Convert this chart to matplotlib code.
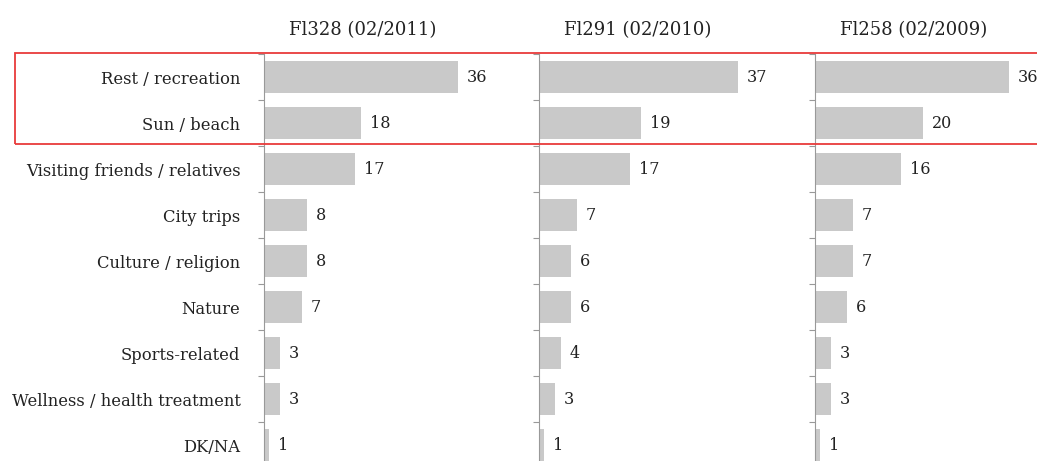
import numpy as np
import matplotlib.pyplot as plt
from matplotlib.patches import Rectangle

# data
categories = ["Rest / recreation", "Sun / beach", "Visiting friends / relatives",
              "City trips", "Culture / religion", "Nature", "Sports-related",
              "Wellness / health treatment", "DK/NA"]
titles = ["Fl328 (02/2011)", "Fl291 (02/2010)", "Fl258 (02/2009)"]
fl328 = [36, 18, 17, 8, 8, 7, 3, 3, 1]
fl291 = [37, 19, 17, 7, 6, 6, 4, 3, 1]
fl258 = [36, 20, 16, 7, 7, 6, 3, 3, 1]
series = [fl328, fl291, fl258]

W, H = 1037, 461
plt.rcParams['font.family'] = ['DejaVu Serif']
fig = plt.figure(figsize=(W / 100, H / 100), dpi=100)

axis_x = [264, 539, 815]
px_per_unit = 5.38
ax_w = 270
top_px = 54
y = np.arange(len(categories))

for i, (vals, title) in enumerate(zip(series, titles)):
    ax = fig.add_axes([axis_x[i] / W, 0, ax_w / W, (H - top_px) / H])
    ax.barh(y, vals, height=0.68, color="#c9c9c9")
    for yy, v in zip(y, vals):
        ax.text(v + 9 / px_per_unit, yy, str(v), va="center", ha="left",
                fontsize=11.5, color="#222222", clip_on=False)
    for s in ["top", "right", "bottom"]:
        ax.spines[s].set_visible(False)
    ax.spines["left"].set_color("#999999")
    ax.xaxis.set_visible(False)
    ax.set_yticks(np.arange(-0.5, len(categories), 1))
    ax.set_yticklabels([])
    ax.tick_params(axis="y", which="major", length=4, color="#999999", direction="out")
    ax.set_yticks(y, minor=True)
    if i == 0:
        ax.set_yticklabels(categories, minor=True, fontsize=11.8, color="#222222")
    ax.tick_params(axis="y", which="minor", length=0, pad=17)
    ax.set_xlim(0, ax_w / px_per_unit)
    ax.set_ylim(-0.5 + (H - top_px) / 46, -0.5)
    fig.text((axis_x[i] + 99) / W, 1 - 30 / H, title, ha="center", va="center",
             fontsize=13, color="#222222")

# red box around the first two rows
fig.patches.append(Rectangle((15 / W, 1 - 144 / H), (W + 10 - 15) / W, 91 / H,
                             transform=fig.transFigure, fill=False,
                             edgecolor="#e83a3a", linewidth=1.3))

plt.savefig("out.png", dpi=100)
